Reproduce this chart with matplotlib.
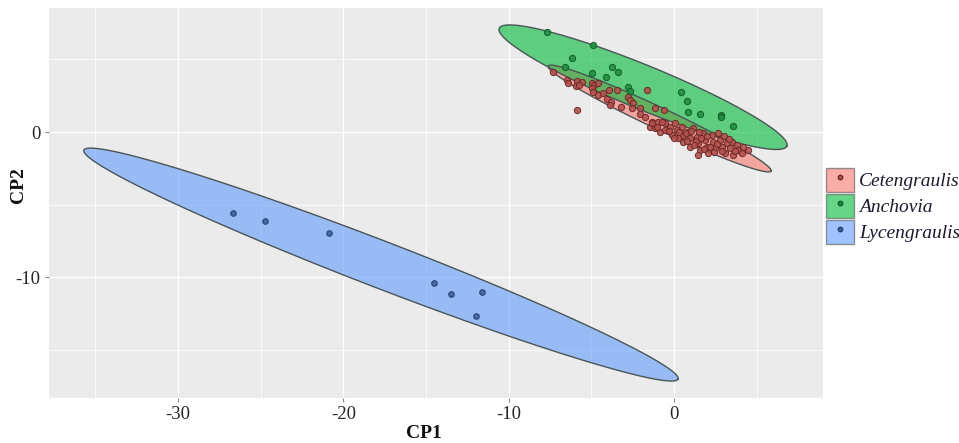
import numpy as np
import matplotlib
matplotlib.use("Agg")
import matplotlib.pyplot as plt
from matplotlib.patches import Polygon, Patch
from matplotlib.lines import Line2D
from matplotlib.legend_handler import HandlerTuple

plt.rcParams["axes.unicode_minus"] = False

# ---------------- data ----------------
groups = ["Cetengraulis", "Anchovia", "Lycengraulis"]

cet_x = [-7.34, -6.49, -6.39, -5.89, -5.58, -5.93, -5.73, -4.98, -4.82, -4.58,
         -4.98, -4.88, -4.58, -4.28, -3.91, -3.47, -1.65, -4.07, -3.83, -3.87,
         -3.21, -2.76, -2.66, -2.46, -2.56, -2.06, -1.15, -0.60, -5.89, -2.06,
         -1.75, -1.35, -0.95, -0.54, -1.45, -1.15, -0.85, -0.44, -1.35, -1.05,
         -0.74, -0.54, -0.24, 0.06, 0.16, 0.47, 0.56, 0.56, 0.87, 0.97,
         1.17, 1.37, 1.47, 1.57, 1.77, 1.88, 1.98, 2.08, 2.28, 2.38,
         2.48, 2.68, 2.78, 2.89, 3.09, 3.19, 3.39, 3.59, 3.49, 3.79,
         3.89, 4.10, 4.49, 1.47, 0.97, 0.26, -0.14,
         0.30, 0.70, 1.00, 1.30, 1.60, 2.00, 2.20, 2.60, 3.00, 3.30,
         2.40, 1.80, 1.20, 0.80, 3.70, 4.20, -0.30, 0.00, 2.90, 1.50]
cet_y = [4.16, 3.59, 3.36, 3.52, 3.47, 3.17, 3.24, 3.40, 3.24, 3.36,
         3.01, 2.78, 2.55, 2.71, 2.90, 2.90, 2.90, 2.26, 2.09, 1.86,
         1.70, 2.43, 2.21, 2.02, 1.63, 1.63, 1.63, 1.52, 1.52, 1.24,
         1.01, 0.71, 0.71, 0.60, 0.37, 0.26, 0.02, 0.14, 0.60, 0.37,
         0.71, 0.14, 0.37, 0.60, 0.14, 0.37, -0.21, -0.67, 0.02, -0.43,
         0.26, -0.32, -0.78, -1.24, -0.09, -0.55, -1.01, -1.47, -0.21, -0.67,
         -1.12, -0.09, -0.55, -1.01, -1.47, -0.78, -1.12, -1.59, -0.67, -0.90,
         -1.24, -1.47, -1.24, -1.59, -1.01, -0.43, -0.21,
         0.00, -0.10, 0.10, -0.60, -0.40, -0.30, -1.00, -0.80, -0.30, -0.50,
         -1.40, -1.20, -0.90, -0.60, -1.30, -1.00, 0.10, -0.40, -1.30, 0.00]

anc_x = [-7.70, -4.88, -6.19, -6.59, -4.98, -3.77, -3.41, -4.11, -2.76, -2.66,
         0.41, 0.77, 0.83, 1.57, 2.83, 2.84, 3.55]
anc_y = [6.92, 6.00, 5.08, 4.50, 4.09, 4.46, 4.12, 3.77, 3.08, 2.85,
         2.74, 2.16, 1.36, 1.24, 1.17, 1.01, 0.43]

lyc_x = [-26.66, -24.77, -20.89, -14.52, -13.51, -11.63, -12.00]
lyc_y = [-5.57, -6.14, -6.99, -10.43, -11.15, -11.02, -12.71]

# ellipse (centre + two conjugate semi-diameters), data units
ell_cx = [-0.875, -1.875, -17.73]
ell_cy = [0.93, 3.09, -9.14]
ell_ax = [6.745, 8.70, 17.97]
ell_ay = [-3.62, -4.06, -7.89]
ell_bx = [0.27, 0.50, 0.51]
ell_by = [0.68, 1.40, 1.50]

x_ticks = [-30, -20, -10, 0]
y_ticks = [0, -10]

# ---------------- style ----------------
fill_cols = ["#F8766D", "#00BA38", "#619CFF"]
pt_face = ["#b4524d", "#1f8f40", "#3d5f9e"]
pt_edge = ["#6e2a28", "#145c29", "#263f6e"]
serif = ["Liberation Serif", "DejaVu Serif"]

W, H = 959, 443
fig = plt.figure(figsize=(W / 100, H / 100), dpi=100)
ax = fig.add_axes([49 / W, 1 - 398 / H, (823 - 49) / W, (398 - 8) / H])
ax.set_facecolor("#EBEBEB")
for s in ax.spines.values():
    s.set_visible(False)

ax.set_xlim(-37.81, 9.01)
ax.set_ylim(-18.34, 8.55)
ax.set_xticks(x_ticks)
ax.set_yticks(y_ticks)
ax.set_xticks([-35, -25, -15, -5, 5], minor=True)
ax.set_yticks([5, -5, -15], minor=True)
ax.grid(which="major", color="white", lw=1.0)
ax.grid(which="minor", color="white", lw=0.55)
ax.set_axisbelow(True)
ax.tick_params(which="major", length=3, width=0.8, color="#8a8a8a",
               labelsize=13.5, labelcolor="#262626", pad=3)
ax.tick_params(which="minor", length=0)
for lab in ax.get_xticklabels() + ax.get_yticklabels():
    lab.set_family(serif)

t = np.linspace(0, 2 * np.pi, 300)
for i in range(3):
    ex = ell_cx[i] + ell_ax[i] * np.cos(t) + ell_bx[i] * np.sin(t)
    ey = ell_cy[i] + ell_ay[i] * np.cos(t) + ell_by[i] * np.sin(t)
    ax.add_patch(Polygon(np.column_stack([ex, ey]), closed=True,
                         facecolor=fill_cols[i], alpha=0.6, edgecolor="none", zorder=2))
    ax.plot(np.append(ex, ex[0]), np.append(ey, ey[0]), color="#4a5656", lw=1.0, zorder=2.5)

series = [(cet_x, cet_y), (anc_x, anc_y), (lyc_x, lyc_y)]
sizes = [20, 20, 16]
for i, (xs, ys) in enumerate(series):
    ax.scatter(xs, ys, s=sizes[i], facecolor=pt_face[i], edgecolor=pt_edge[i],
               linewidths=0.8, alpha=0.9, zorder=3)

fig.text(424 / W, 1 - 433 / H, "CP1", family=serif, weight="bold", fontsize=14,
         ha="center", va="center", color="#111111")
fig.text(18 / W, 1 - 185 / H, "CP2", family=serif, weight="bold", fontsize=14,
         ha="center", va="center", rotation=90, color="#111111")

handles = []
for i in range(3):
    handles.append((Patch(facecolor=fill_cols[i], alpha=0.6, edgecolor="#555555", lw=1.0),
                    Line2D([], [], marker="o", ms=3.2, ls="", color=pt_face[i],
                           markeredgecolor=pt_edge[i])))
leg = fig.legend(handles, groups, handler_map={tuple: HandlerTuple(ndivide=1, pad=0)},
                 loc="center left", bbox_to_anchor=(826 / W, 1 - 206 / H),
                 frameon=False, borderpad=0, borderaxespad=0,
                 handlelength=1.45, handleheight=1.55, labelspacing=0.08,
                 handletextpad=0.25, prop={"family": serif, "style": "italic", "size": 14})
for txt in leg.get_texts():
    txt.set_color("#1a1a2e")

fig.savefig("out.png", dpi=100, facecolor="white")
